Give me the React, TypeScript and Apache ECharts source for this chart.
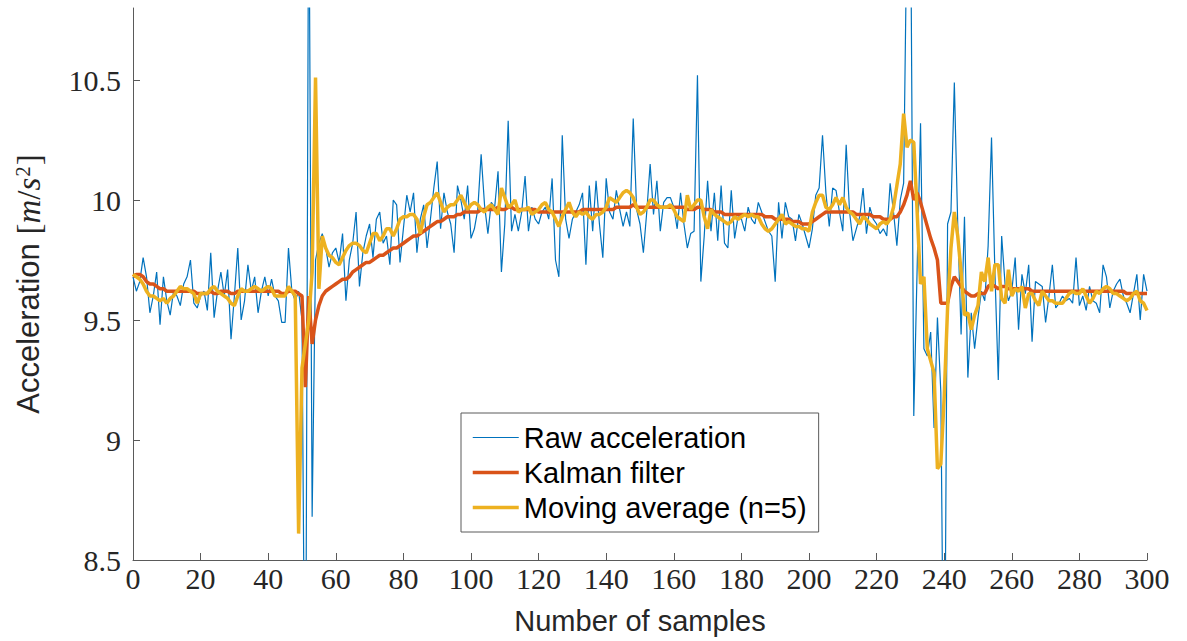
import React, { useEffect, useRef } from "react";
import * as echarts from "echarts";

// Raw acceleration samples (m/s^2), index = sample number 0..300
const RAW: number[] = [
  9.68, 9.62, 9.66, 9.76, 9.68, 9.53, 9.60, 9.70, 9.48, 9.68,
  9.58, 9.52, 9.62, 9.60, 9.56, 9.65, 9.68, 9.75, 9.57, 9.55,
  9.60, 9.62, 9.54, 9.78, 9.51, 9.62, 9.70, 9.60, 9.71, 9.42,
  9.60, 9.80, 9.50, 9.58, 9.73, 9.62, 9.68, 9.53, 9.62, 9.68,
  9.60, 9.67, 9.60, 9.58, 9.49, 9.49, 9.80, 9.62, 9.58, 9.62,
  9.50, 7.50, 11.50, 8.68, 9.75, 9.82, 9.86, 9.80, 9.72, 9.78,
  9.80, 9.74, 9.86, 9.58, 9.75, 9.82, 9.95, 9.64, 9.78, 9.85,
  9.90, 9.76, 9.92, 9.95, 9.82, 9.85, 9.73, 10.00, 9.98, 9.74,
  9.88, 10.02, 9.95, 10.03, 9.78, 9.92, 9.98, 9.80, 9.92, 10.05,
  10.16, 9.88, 10.03, 9.95, 9.90, 9.78, 10.06, 10.00, 9.92, 10.06,
  9.84, 9.88, 9.96, 10.19, 9.98, 9.86, 9.99, 9.97, 10.12, 9.70,
  9.90, 10.33, 9.87, 9.94, 9.87, 9.95, 10.10, 9.87, 9.97, 9.92,
  9.90, 9.95, 9.97, 9.92, 10.09, 9.75, 9.68, 10.27, 9.92, 9.84,
  9.92, 9.95, 9.98, 10.03, 9.73, 10.06, 9.87, 10.08, 9.90, 9.76,
  10.09, 9.95, 9.92, 10.04, 9.96, 9.89, 9.95, 9.89, 10.34, 9.96,
  9.90, 9.78, 9.95, 10.15, 9.94, 10.08, 9.87, 9.99, 10.01, 10.01,
  9.97, 9.88, 10.03, 9.90, 9.80, 9.86, 9.87, 10.52, 9.66, 9.85,
  10.08, 9.87, 10.03, 9.83, 10.06, 9.82, 9.80, 10.04, 9.84, 9.93,
  9.92, 9.87, 9.97, 9.92, 9.90, 9.99, 9.95, 9.91, 9.87, 9.85,
  9.66, 9.99, 9.84, 9.99, 9.93, 9.92, 9.83, 9.94, 9.90, 9.85,
  9.80, 9.88, 10.02, 10.05, 10.27, 10.03, 9.89, 10.05, 10.04, 9.95,
  9.87, 10.23, 9.95, 9.83, 9.88, 9.93, 10.05, 9.86, 9.97, 9.92,
  9.90, 9.86, 9.88, 9.85, 10.07, 9.95, 9.81, 10.00, 10.07, 11.20,
  11.40, 9.10, 9.72, 10.32, 9.38, 9.35, 9.45, 9.05, 9.51, 9.20,
  7.60, 9.90, 9.95, 10.49, 9.90, 9.44, 9.93, 9.26, 9.53, 9.38,
  9.51, 9.62, 9.58, 9.81, 10.26, 9.70, 9.25, 9.85, 9.65, 9.58,
  9.62, 9.76, 9.46, 9.69, 9.61, 9.73, 9.41, 9.66, 9.65, 9.64,
  9.49, 9.60, 9.73, 9.55, 9.57, 9.60, 9.58, 9.59, 9.57, 9.76,
  9.56, 9.60, 9.54, 9.64, 9.58, 9.57, 9.53, 9.73, 9.68, 9.55,
  9.62, 9.65, 9.67, 9.60, 9.57, 9.53, 9.61, 9.69, 9.50, 9.69,
  9.62,
];

// Kalman filter output
const KALMAN: number[] = [
  9.68, 9.69, 9.69, 9.68, 9.66, 9.65, 9.65, 9.64, 9.63, 9.63,
  9.62, 9.62, 9.62, 9.62, 9.62, 9.62, 9.62, 9.62, 9.62, 9.61,
  9.61, 9.61, 9.61, 9.62, 9.61, 9.61, 9.62, 9.62, 9.62, 9.61,
  9.61, 9.62, 9.62, 9.62, 9.62, 9.62, 9.62, 9.62, 9.62, 9.62,
  9.62, 9.62, 9.62, 9.62, 9.61, 9.61, 9.62, 9.62, 9.62, 9.61,
  9.60, 9.22, 9.60, 9.40, 9.50, 9.56, 9.60, 9.62, 9.63, 9.64,
  9.65, 9.66, 9.67, 9.67, 9.68, 9.70, 9.71, 9.72, 9.73, 9.74,
  9.74, 9.75, 9.76, 9.77, 9.77, 9.78, 9.79, 9.80, 9.80, 9.81,
  9.82, 9.83, 9.84, 9.85, 9.85, 9.86, 9.87, 9.88, 9.89, 9.90,
  9.91, 9.91, 9.92, 9.93, 9.93, 9.93, 9.94, 9.94, 9.95, 9.95,
  9.95, 9.95, 9.95, 9.96, 9.96, 9.96, 9.96, 9.96, 9.97, 9.96,
  9.96, 9.97, 9.97, 9.96, 9.96, 9.96, 9.96, 9.96, 9.96, 9.96,
  9.95, 9.95, 9.95, 9.95, 9.95, 9.95, 9.95, 9.95, 9.95, 9.95,
  9.95, 9.95, 9.95, 9.96, 9.96, 9.96, 9.96, 9.96, 9.96, 9.96,
  9.96, 9.96, 9.96, 9.97, 9.97, 9.97, 9.97, 9.97, 9.98, 9.97,
  9.97, 9.97, 9.97, 9.97, 9.97, 9.97, 9.97, 9.97, 9.97, 9.97,
  9.97, 9.97, 9.97, 9.97, 9.96, 9.96, 9.96, 9.97, 9.97, 9.96,
  9.96, 9.96, 9.95, 9.95, 9.95, 9.94, 9.94, 9.94, 9.94, 9.94,
  9.94, 9.94, 9.94, 9.94, 9.94, 9.94, 9.94, 9.93, 9.93, 9.93,
  9.92, 9.92, 9.92, 9.92, 9.92, 9.91, 9.91, 9.91, 9.90, 9.90,
  9.90, 9.91, 9.92, 9.93, 9.94, 9.95, 9.95, 9.95, 9.95, 9.95,
  9.95, 9.95, 9.95, 9.95, 9.94, 9.94, 9.94, 9.94, 9.94, 9.93,
  9.93, 9.93, 9.92, 9.92, 9.92, 9.93, 9.93, 9.95, 9.98, 10.02,
  10.08, 10.00, 10.03, 9.99, 9.94, 9.89, 9.84, 9.80, 9.75, 9.57,
  9.57, 9.57, 9.64, 9.68, 9.66, 9.64, 9.62, 9.61, 9.60, 9.60,
  9.61, 9.61, 9.61, 9.64, 9.65, 9.64, 9.63, 9.64, 9.64, 9.63,
  9.63, 9.63, 9.63, 9.63, 9.63, 9.63, 9.62, 9.62, 9.62, 9.62,
  9.62, 9.62, 9.62, 9.62, 9.62, 9.62, 9.62, 9.62, 9.62, 9.62,
  9.62, 9.62, 9.62, 9.62, 9.62, 9.62, 9.62, 9.62, 9.62, 9.62,
  9.62, 9.62, 9.62, 9.62, 9.61, 9.61, 9.61, 9.61, 9.61, 9.61,
  9.61,
];

// Moving average (n=5)
const MOVING_AVG: number[] = [
  9.69, 9.68, 9.67, 9.65, 9.62, 9.60, 9.60, 9.59, 9.58, 9.59,
  9.57, 9.59, 9.60, 9.62, 9.64, 9.63, 9.63, 9.62, 9.61, 9.57,
  9.61, 9.61, 9.61, 9.63, 9.64, 9.62, 9.61, 9.60, 9.59, 9.57,
  9.56, 9.60, 9.63, 9.62, 9.62, 9.63, 9.64, 9.63, 9.62, 9.63,
  9.64, 9.63, 9.60, 9.60, 9.60, 9.60, 9.64, 9.62, 9.60, 8.61,
  9.30, 9.40, 9.50, 9.70, 10.51, 9.63, 9.85, 9.80, 9.77, 9.76,
  9.74, 9.73, 9.76, 9.79, 9.81, 9.82, 9.82, 9.81, 9.79, 9.78,
  9.82, 9.86, 9.86, 9.83, 9.85, 9.88, 9.88, 9.85, 9.88, 9.92,
  9.93, 9.93, 9.94, 9.94, 9.92, 9.86, 9.93, 9.98, 9.99, 10.01,
  10.03, 9.99, 9.95, 9.97, 9.98, 9.98, 10.00, 10.02, 9.99, 9.96,
  9.98, 9.99, 9.98, 9.96, 9.95, 9.97, 9.98, 9.96, 9.94, 10.05,
  10.01, 9.97, 9.98, 10.00, 9.95, 9.96, 9.96, 9.97, 9.94, 9.95,
  9.96, 9.98, 9.99, 9.96, 9.95, 9.92, 9.89, 9.93, 9.96, 9.99,
  9.95, 9.93, 9.95, 9.94, 9.95, 9.93, 9.92, 9.94, 9.94, 9.95,
  9.97, 10.01, 10.00, 9.99, 10.01, 10.03, 10.04, 10.03, 10.01, 9.97,
  9.94, 9.95, 9.97, 10.00, 10.00, 9.98, 9.97, 9.97, 9.97, 9.98,
  9.96, 9.93, 9.92, 9.91, 10.02, 9.96, 9.98, 10.00, 10.00, 9.93,
  9.88, 9.96, 9.94, 9.93, 9.92, 9.91, 9.90, 9.91, 9.93, 9.92,
  9.93, 9.94, 9.93, 9.94, 9.93, 9.93, 9.90, 9.88, 9.87, 9.88,
  9.90, 9.92, 9.94, 9.90, 9.91, 9.90, 9.89, 9.89, 9.88, 9.88,
  9.87, 9.95, 9.99, 10.02, 10.02, 9.97, 9.96, 9.98, 10.01, 9.98,
  10.01, 9.97, 9.95, 9.94, 9.92, 9.90, 9.93, 9.92, 9.90, 9.89,
  9.88, 9.90, 9.91, 9.90, 9.92, 9.97, 10.06, 10.15, 10.36, 10.22,
  10.25, 10.24, 9.95, 9.65, 9.68, 9.38, 9.33, 9.28, 8.88, 8.90,
  9.18, 9.55, 9.80, 9.95, 9.85, 9.70, 9.52, 9.53, 9.46, 9.52,
  9.56, 9.70, 9.66, 9.76, 9.62, 9.73, 9.73, 9.59, 9.57, 9.71,
  9.60, 9.63, 9.62, 9.64, 9.55, 9.61, 9.61, 9.58, 9.56, 9.62,
  9.60, 9.58, 9.58, 9.57, 9.57, 9.57, 9.59, 9.61, 9.62, 9.61,
  9.61, 9.63, 9.60, 9.57, 9.59, 9.62, 9.61, 9.63, 9.64, 9.63,
  9.61, 9.61, 9.60, 9.59, 9.58, 9.59, 9.61, 9.62, 9.58, 9.57,
  9.54,
];

const SERIES_NAMES = ["Raw acceleration", "Kalman filter", "Moving average (n=5)"];
const Y_TICKS = [8.5, 9, 9.5, 10, 10.5];
const X_TICKS = [0, 20, 40, 60, 80, 100, 120, 140, 160, 180, 200, 220, 240, 260, 280, 300];

const AXIS_COLOR = "#5a5a5a";
const TEXT_COLOR = "#262626";
const SANS = "'Liberation Sans', Arial, Helvetica, sans-serif";
const SERIF = "'Liberation Serif', 'Times New Roman', serif";

export default function App() {
  const ref = useRef<HTMLDivElement>(null);

  useEffect(() => {
    if (!ref.current) return;
    const chart = echarts.init(ref.current, null, { renderer: "svg" });
    const toPoints = (arr: number[]) => arr.map((v, i) => [i, v]);

    chart.setOption({
      animation: false,
      backgroundColor: "#ffffff",
      grid: { left: 133, right: 40, top: 8, bottom: 81, containLabel: false },
      legend: {
        orient: "vertical",
        left: 461,
        top: 413,
        padding: [10, 12, 10, 10],
        itemGap: 6,
        itemWidth: 46,
        itemHeight: 14,
        backgroundColor: "#ffffff",
        borderColor: AXIS_COLOR,
        borderWidth: 1,
        itemStyle: { opacity: 0, borderWidth: 0 },
        lineStyle: { width: "inherit" },
        textStyle: { fontFamily: SANS, fontSize: 29, color: "#000" },
        data: SERIES_NAMES,
      },
      xAxis: {
        type: "value",
        min: 0,
        max: 300,
        interval: 20,
        axisLine: { show: true, onZero: false, lineStyle: { color: AXIS_COLOR, width: 1 } },
        axisTick: { show: true, inside: true, length: 7, lineStyle: { color: AXIS_COLOR }, customValues: X_TICKS },
        axisLabel: {
          color: TEXT_COLOR,
          fontFamily: SERIF,
          fontSize: 30,
          margin: 3,
          customValues: X_TICKS,
        },
        splitLine: { show: false },
        name: "Number of samples",
        nameLocation: "middle",
        nameGap: 46,
        nameTextStyle: { fontFamily: SANS, fontSize: 29, color: TEXT_COLOR },
      },
      yAxis: {
        type: "value",
        min: 8.5,
        max: 10.8,
        interval: 0.5,
        axisLine: { show: true, onZero: false, lineStyle: { color: AXIS_COLOR, width: 1 } },
        axisTick: { show: true, inside: true, length: 7, lineStyle: { color: AXIS_COLOR }, customValues: Y_TICKS },
        axisLabel: {
          color: TEXT_COLOR,
          fontFamily: SERIF,
          fontSize: 30,
          margin: 12,
          customValues: Y_TICKS,
          formatter: (v: number) => (Y_TICKS.some((t) => Math.abs(t - v) < 1e-6) ? String(v) : ""),
        },
        splitLine: { show: false },
        name: "{s|Acceleration }{m|[}{i|m}{m|/}{i|s}{sup|2}{m|]}",
        nameLocation: "middle",
        nameGap: 88,
        nameTextStyle: {
          color: TEXT_COLOR,
          fontFamily: SANS,
          fontSize: 31,
          rich: {
            s: { fontFamily: SANS, fontSize: 31, color: TEXT_COLOR },
            m: { fontFamily: SERIF, fontSize: 33, color: TEXT_COLOR },
            i: { fontFamily: SERIF, fontSize: 33, fontStyle: "italic", color: TEXT_COLOR },
            sup: { fontFamily: SERIF, fontSize: 21, color: TEXT_COLOR, verticalAlign: "top", padding: [0, 1, 12, 1] },
          },
        },
      },
      series: [
        {
          name: SERIES_NAMES[0],
          type: "line",
          data: toPoints(RAW),
          symbol: "none",
          showSymbol: false,
          clip: true,
          lineStyle: { color: "#0072BD", width: 1.2 },
          itemStyle: { color: "#0072BD" },
          z: 2,
        },
        {
          name: SERIES_NAMES[1],
          type: "line",
          data: toPoints(KALMAN),
          symbol: "none",
          showSymbol: false,
          clip: true,
          lineStyle: { color: "#D95319", width: 3.5 },
          itemStyle: { color: "#D95319" },
          z: 3,
        },
        {
          name: SERIES_NAMES[2],
          type: "line",
          data: toPoints(MOVING_AVG),
          symbol: "none",
          showSymbol: false,
          clip: true,
          lineStyle: { color: "#EDB120", width: 3.5 },
          itemStyle: { color: "#EDB120" },
          z: 4,
        },
      ],
    });

    return () => chart.dispose();
  }, []);

  return (
    <div
      ref={ref}
      style={{ position: "absolute", left: 0, top: 0, width: 1187, height: 641, background: "#fff" }}
    />
  );
}
